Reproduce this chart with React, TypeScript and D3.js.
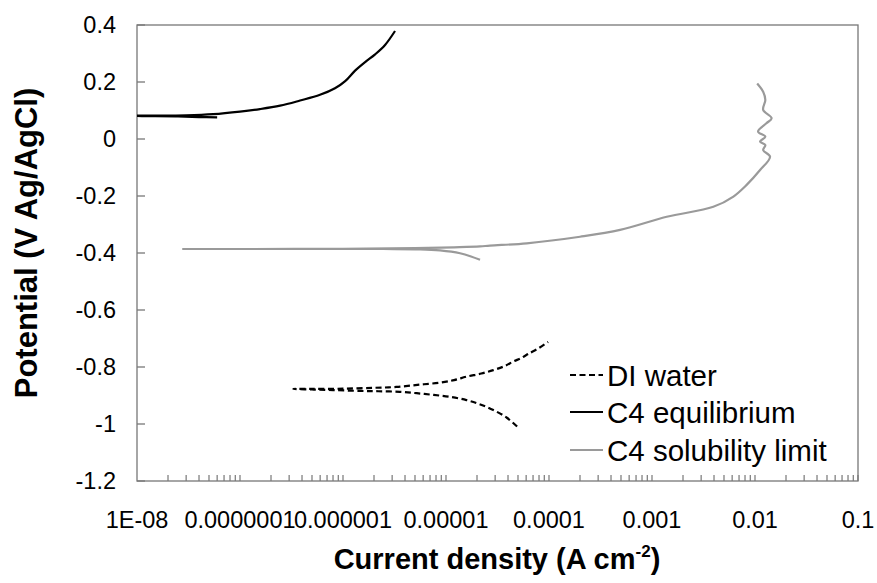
import React from "react";
import * as d3 from "d3";

// Polarization curves: current density (A cm^-2) vs potential (V vs Ag/AgCl)
const diWaterCurrent = [
  4.9e-5, 3.9e-5, 2.88e-5, 2.1e-5, 1.58e-5, 1.1e-5, 7.6e-6, 5.2e-6, 3.57e-6, 2.2e-6, 1.5e-6, 8.0e-7, 5.0e-7, 3.3e-7,
  5.0e-7, 1.0e-6, 2.0e-6, 3.3e-6, 5.5e-6, 8.75e-6, 1.2e-5, 1.58e-5, 2.2e-5, 2.88e-5, 3.7e-5, 4.5e-5, 5.4e-5, 6.3e-5, 8.0e-5, 9.8e-5,
];
const diWaterPotential = [
  -1.009, -0.978, -0.951, -0.93, -0.916, -0.905, -0.898, -0.892, -0.887, -0.885, -0.884, -0.881, -0.879, -0.877,
  -0.877, -0.876, -0.873, -0.87, -0.862, -0.855, -0.846, -0.834, -0.823, -0.811, -0.797, -0.781, -0.768, -0.754, -0.733, -0.712,
];

const eqCurrent = [
  6.0e-8, 4.0e-8, 2.5e-8, 1.5e-8, 8e-9, 5e-9,
  8e-9, 1.5e-8, 3e-8, 5.5e-8, 1.0e-7, 1.56e-7, 2.45e-7, 3.83e-7, 5.98e-7, 8.36e-7, 1.05e-6, 1.31e-6, 1.64e-6, 2.05e-6, 2.56e-6, 3.2e-6,
];
const eqPotential = [
  0.076, 0.077, 0.079, 0.08, 0.081, 0.082,
  0.082, 0.082, 0.083, 0.087, 0.096, 0.105, 0.117, 0.135, 0.155, 0.178, 0.203, 0.24, 0.27, 0.297, 0.33, 0.379,
];

const solCurrent = [
  2.14e-5, 1.75e-5, 1.37e-5, 8.75e-6, 5.6e-6, 2.45e-6, 5.0e-7, 1.0e-7, 2.8e-8,
  1.0e-7, 1.0e-6, 5.0e-6, 1.2e-5, 2.14e-5, 2.67e-5, 6.08e-5, 2.0e-4, 4.9e-4, 1.39e-3, 3.94e-3, 6.17e-3, 8.3e-3,
  1.12e-2, 1.4e-2, 1.2e-2, 1.26e-2, 1.12e-2, 1.26e-2, 1.07e-2, 1.29e-2, 1.45e-2, 1.2e-2, 1.26e-2, 1.2e-2, 1.05e-2,
];
const solPotential = [
  -0.424, -0.412, -0.401, -0.391, -0.387, -0.386, -0.386, -0.386, -0.386,
  -0.386, -0.385, -0.383, -0.38, -0.377, -0.374, -0.366, -0.343, -0.319, -0.273, -0.238, -0.202, -0.161,
  -0.109, -0.062, -0.039, -0.021, -0.009, 0.008, 0.026, 0.055, 0.073, 0.102, 0.137, 0.166, 0.195,
];

const yTickValues = [0.4, 0.2, 0, -0.2, -0.4, -0.6, -0.8, -1, -1.2];
const xTickValues = [1e-8, 1e-7, 1e-6, 1e-5, 1e-4, 1e-3, 1e-2, 1e-1];
const xTickLabels = ["1E-08", "0.0000001", "0.000001", "0.00001", "0.0001", "0.001", "0.01", "0.1"];

const seriesNames = ["DI water", "C4 equilibrium", "C4 solubility limit"];

const W = 877;
const H = 583;
const plot = { left: 137, right: 858, top: 25, bottom: 481 };
const FONT = "'Liberation Sans', Arial, sans-serif";

type Pt = { i: number; e: number };
const zip = (c: number[], p: number[]): Pt[] => c.map((v, k) => ({ i: v, e: p[k] }));

export default function App() {
  const x = d3.scaleLog().domain([1e-8, 0.1]).range([plot.left, plot.right]);
  const y = d3.scaleLinear().domain([-1.2, 0.4]).range([plot.bottom, plot.top]);
  const line = d3
    .line<Pt>()
    .x((d) => x(d.i))
    .y((d) => y(d.e))
    .curve(d3.curveCatmullRom.alpha(0.5));

  const series = [
    { name: seriesNames[0], data: zip(diWaterCurrent, diWaterPotential), color: "#000", dash: "6,3.5" },
    { name: seriesNames[1], data: zip(eqCurrent, eqPotential), color: "#000", dash: undefined },
    { name: seriesNames[2], data: zip(solCurrent, solPotential), color: "#9a9a9a", dash: undefined },
  ];

  // minor ticks 2..10 for each decade
  const minorTicks: number[] = [];
  for (let p = -8; p < -1; p++) {
    for (let m = 2; m <= 10; m++) minorTicks.push(m * Math.pow(10, p));
  }

  const legendX = 570;
  const legendY = [375, 412, 450];

  return (
    <svg
      width={W}
      height={H}
      style={{ position: "absolute", left: 0, top: 0, background: "#fff" }}
      fontFamily={FONT}
    >
      <defs>
        <clipPath id="plot-clip">
          <rect x={plot.left} y={plot.top} width={plot.right - plot.left} height={plot.bottom - plot.top} />
        </clipPath>
      </defs>
      <rect x={0} y={0} width={W} height={H} fill="#fff" />

      {/* plot frame */}
      <rect
        x={plot.left}
        y={plot.top}
        width={plot.right - plot.left}
        height={plot.bottom - plot.top}
        fill="none"
        stroke="#777"
        strokeWidth={1.3}
      />

      {/* y ticks */}
      {yTickValues.map((v) => (
        <g key={"y" + v}>
          <line x1={plot.left} x2={plot.left + 8} y1={y(v)} y2={y(v)} stroke="#777" strokeWidth={1.3} />
          <text x={plot.left - 21} y={y(v)} dy="0.36em" textAnchor="end" fontSize={23.5} fill="#000">
            {String(v)}
          </text>
        </g>
      ))}

      {/* x ticks */}
      {minorTicks.map((v, k) => (
        <line key={"xm" + k} x1={x(v)} x2={x(v)} y1={plot.bottom} y2={plot.bottom - 6} stroke="#777" strokeWidth={1.2} />
      ))}
      {xTickValues.map((v, k) => (
        <text key={"xl" + k} x={x(v)} y={528} textAnchor="middle" fontSize={23.5} fill="#000">
          {xTickLabels[k]}
        </text>
      ))}

      {/* curves */}
      <g clipPath="url(#plot-clip)">
        {series.map((s) => (
          <path
            key={s.name}
            d={line(s.data) || ""}
            fill="none"
            stroke={s.color}
            strokeWidth={2.2}
            strokeDasharray={s.dash}
            strokeLinejoin="round"
          />
        ))}
      </g>

      {/* legend */}
      {series.map((s, k) => (
        <g key={"lg" + k}>
          <line
            x1={legendX}
            x2={legendX + 33}
            y1={legendY[k]}
            y2={legendY[k]}
            stroke={s.color}
            strokeWidth={2.2}
            strokeDasharray={s.dash}
          />
          <text x={legendX + 37} y={legendY[k]} dy="0.36em" fontSize={29.5} fill="#000">
            {s.name}
          </text>
        </g>
      ))}

      {/* axis titles */}
      <text x={497} y={569} textAnchor="middle" fontSize={29} fontWeight="bold" fill="#000">
        Current density (A cm
        <tspan fontSize={17} dy={-12}>
          -2
        </tspan>
        <tspan dy={12}>)</tspan>
      </text>
      <text
        transform={`translate(37, 243) rotate(-90)`}
        textAnchor="middle"
        fontSize={31}
        fontWeight="bold"
        fill="#000"
      >
        Potential (V Ag/AgCl)
      </text>
    </svg>
  );
}
